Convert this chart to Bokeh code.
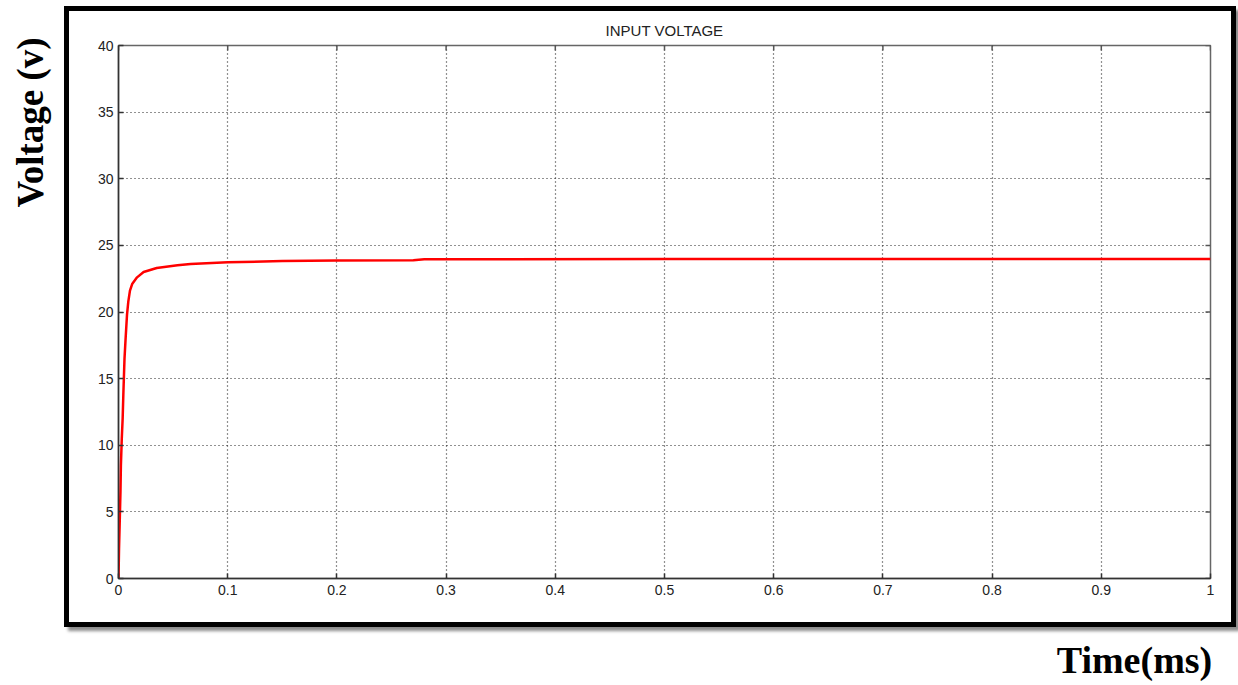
import math
from bokeh.plotting import figure
from bokeh.models import (Range1d, FixedTicker, NumeralTickFormatter, LinearAxis,
                          InlineStyleSheet, CustomJSTickFormatter)
from bokeh.embed import file_html
from bokeh.resources import INLINE

# ---- data ----
time_ms = [0.0, 0.0005, 0.0012, 0.0018, 0.0022, 0.003, 0.0038, 0.0045, 0.0055, 0.0065,
           0.0078, 0.009, 0.0105, 0.0125, 0.017, 0.023, 0.035, 0.054, 0.066, 0.1,
           0.15, 0.2, 0.27, 0.28, 0.5, 1.0]
voltage = [0.0, 2.3, 4.5, 6.5, 8.5, 10.5, 12.0, 14.0, 16.5, 18.0,
           19.8, 20.8, 21.6, 22.1, 22.6, 23.0, 23.3, 23.5, 23.6, 23.73,
           23.82, 23.86, 23.88, 23.95, 23.97, 23.98]
x_ticks = [0, 0.1, 0.2, 0.3, 0.4, 0.5, 0.6, 0.7, 0.8, 0.9, 1.0]
y_ticks = [0, 5, 10, 15, 20, 25, 30, 35, 40]
title_text = "INPUT VOLTAGE"
x_label = "Time(ms)"
y_label = "Voltage (v)"

# ---- layout ----
W, H = 1236, 685
FL, FR, FT, FB = 118, 1210, 45, 578   # frame edges in page pixels
XLABEL_CENTER_PX = 1134               # where the outer labels sit (page pixels)
YLABEL_CENTER_PX = 122

box_css = InlineStyleSheet(css="""
:host { position: relative; }
:host::after {
  content: ""; position: absolute; left: 64px; top: 6px; width: 1172px; height: 621px;
  box-sizing: border-box; border: 5px solid #000000;
  box-shadow: 4px 4px 3px rgba(0,0,0,0.45); pointer-events: none;
}
""")

x0, x1, y0, y1 = x_ticks[0], x_ticks[-1], y_ticks[0], y_ticks[-1]
p = figure(width=W, height=H, output_backend="svg", toolbar_location=None,
           x_range=Range1d(x0, x1), y_range=Range1d(y0, y1),
           min_border_left=FL, min_border_right=W - FR, min_border_top=FT, min_border_bottom=H - FB,
           stylesheets=[box_css])
p.background_fill_color = "white"
p.border_fill_color = "white"
p.outline_line_color = "#666666"
p.outline_line_width = 1.5

xt = FixedTicker(ticks=x_ticks)
yt = FixedTicker(ticks=y_ticks)

p.xaxis.ticker = xt
p.yaxis.ticker = yt
p.xaxis.formatter = NumeralTickFormatter(format="0.[0]")
p.yaxis.formatter = NumeralTickFormatter(format="0")
for ax in list(p.xaxis) + list(p.yaxis):
    ax.major_tick_in = 5
    ax.major_tick_out = 0
    ax.minor_tick_line_color = None
    ax.axis_line_color = "#333333"
    ax.axis_line_width = 1.5
    ax.major_tick_line_color = "#333333"
    ax.major_tick_line_width = 1.5
    ax.major_label_text_font = "Liberation Sans"
    ax.major_label_text_font_size = "14px"
    ax.major_label_text_color = "#222222"
p.xaxis.major_label_standoff = 6
p.yaxis.major_label_standoff = 5

p.xgrid.ticker = xt
p.ygrid.ticker = yt
for g in (p.xgrid, p.ygrid):
    g.grid_line_color = "#222222"
    g.grid_line_dash = "1 3"
    g.grid_line_width = 1.2

# inner tick marks on the top and right edges
p.ray(x=x_ticks, y=[y1] * len(x_ticks), length=5, length_units="screen",
      angle=-math.pi / 2, line_color="#555555", line_width=1.5)
p.ray(x=[x1] * len(y_ticks), y=y_ticks, length=5, length_units="screen",
      angle=math.pi, line_color="#555555", line_width=1.5)

p.line(time_ms, voltage, line_color="#ff0000", line_width=2.5)

# title on top
p.title.text = title_text
p.title.align = "center"
p.title.text_font = "Liberation Sans"
p.title.text_font_style = "normal"
p.title.text_font_size = "15px"
p.title.text_color = "#222222"
p.title.standoff = 14


def label_axis(at, text, standoff, size, vertical=False):
    """An extra axis with a single, unmarked tick whose label is the axis title."""
    ax = LinearAxis(ticker=FixedTicker(ticks=[at]),
                    formatter=CustomJSTickFormatter(args=dict(label=text), code="return label"))
    ax.axis_line_color = None
    ax.major_tick_line_color = None
    ax.minor_tick_line_color = None
    ax.major_tick_in = 0
    ax.major_tick_out = 0
    ax.minor_tick_in = 0
    ax.minor_tick_out = 0
    ax.major_label_standoff = standoff
    ax.major_label_text_font = "Liberation Serif"
    ax.major_label_text_font_style = "bold"
    ax.major_label_text_font_size = size
    ax.major_label_text_color = "#000000"
    if vertical:
        ax.major_label_orientation = "vertical"
    return ax


x_at = x0 + (x1 - x0) * (XLABEL_CENTER_PX - FL) / (FR - FL)
y_at = y0 + (y1 - y0) * (FB - YLABEL_CENTER_PX) / (FB - FT)
p.add_layout(label_axis(y_at, y_label, 44, "37px", vertical=True), "left")
p.add_layout(label_axis(x_at, x_label, 41, "38px"), "below")

open("out.html", "w").write(file_html(p, INLINE))
